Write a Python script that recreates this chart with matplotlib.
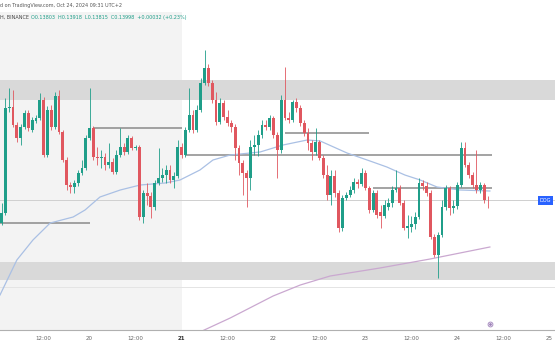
import numpy as np
import matplotlib.pyplot as plt

# DOGE 1h candles, prices in 1e-4 units
opens = [1388.5, 1393.5, 1446, 1446.5, 1437.5, 1431, 1436.5, 1443.5, 1435, 1439.5,
         1441, 1450, 1422.5, 1445, 1436.5, 1452, 1434, 1420, 1407.5, 1406.5,
         1408.5, 1413.5, 1416, 1431, 1436, 1421.5, 1421, 1421.5, 1417.5, 1419,
         1414, 1422.5, 1426.5, 1424, 1431, 1426, 1426.5, 1391.5, 1403.5, 1402,
         1396.5, 1408.5, 1411, 1412.5, 1415, 1410, 1412, 1426.5, 1422.5, 1435,
         1442.5, 1435, 1445, 1458.5, 1466, 1458.5, 1450, 1439, 1448.5, 1441.5,
         1438.5, 1436.5, 1426, 1418.5, 1413.5, 1411, 1426.5, 1427.5, 1432.5, 1437.5,
         1436.5, 1441, 1432.5, 1425, 1450, 1441, 1440, 1449, 1446, 1438.5,
         1433.5, 1428.5, 1424, 1429, 1421, 1412.5, 1402.5, 1412, 1403.5, 1386,
         1401, 1402.5, 1405, 1409, 1408, 1413.5, 1406, 1395, 1403.5, 1394,
         1392, 1396.5, 1398.5, 1405, 1406, 1398.5, 1386, 1386.5, 1388, 1391.5,
         1408.5, 1407, 1403.5, 1381.5, 1372.5, 1382.5, 1396.5, 1406, 1396, 1397,
         1407.5, 1426, 1417.5, 1412.5, 1407.5, 1405, 1407.5, 1400]
highs = [1398.5, 1451, 1456, 1455, 1439, 1438, 1445, 1445, 1441.5, 1442.5,
         1453.5, 1451.5, 1447, 1447.5, 1454, 1455, 1435, 1421.5, 1409, 1410,
         1415, 1420, 1432.5, 1456, 1437, 1426.5, 1425, 1423.5, 1428.5, 1421,
         1425, 1436, 1428.5, 1432.5, 1432, 1427.5, 1427.5, 1405, 1408.5, 1404,
         1410, 1426, 1416, 1417.5, 1417.5, 1414, 1430, 1428.5, 1436.5, 1456,
         1445, 1447.5, 1461, 1475, 1468, 1460, 1454, 1451, 1450, 1445,
         1440, 1438, 1427.5, 1420, 1415, 1430, 1432.5, 1435, 1440, 1440,
         1442.5, 1442, 1434, 1452.5, 1466.5, 1444, 1450, 1451, 1447.5, 1440,
         1436, 1430, 1436, 1430, 1422.5, 1417.5, 1415, 1415, 1405, 1402.5,
         1404, 1407, 1411, 1410.5, 1416, 1415, 1407, 1405, 1405, 1397.5,
         1400, 1401, 1407, 1415, 1407.5, 1400, 1392.5, 1392, 1394, 1411,
         1410, 1409, 1405, 1383, 1384, 1400, 1407.5, 1407, 1400, 1409,
         1429, 1429, 1419, 1414, 1425, 1409, 1408.5, 1402]
lows = [1387.5, 1392.5, 1444, 1436.5, 1429, 1427.5, 1435.5, 1434.5, 1434, 1438.5,
        1440, 1421.5, 1421.5, 1435, 1435.5, 1433, 1419, 1405, 1403.5, 1403.5,
        1407, 1412.5, 1415, 1430, 1420, 1417.5, 1416, 1415, 1416, 1413,
        1413, 1421.5, 1422.5, 1423, 1425, 1425, 1390, 1388.5, 1397.5, 1391,
        1395, 1407.5, 1409, 1408.5, 1408.5, 1406, 1411, 1421, 1421.5, 1434,
        1433.5, 1434, 1444, 1457.5, 1457, 1448.5, 1437.5, 1438, 1440, 1437,
        1434, 1420, 1412.5, 1402.5, 1396.5, 1405, 1422.5, 1422, 1431, 1435,
        1435, 1431, 1411, 1423.5, 1440, 1438.5, 1439, 1444, 1437, 1432,
        1425, 1420, 1422.5, 1420, 1411, 1400, 1397.5, 1401.5, 1384, 1384.5,
        1400, 1401.5, 1403.5, 1406, 1407, 1405, 1393.5, 1394, 1391, 1386,
        1391, 1395, 1396.5, 1404, 1397.5, 1385, 1381, 1384, 1385.5, 1390.5,
        1405, 1402, 1380.5, 1371.5, 1361, 1381.5, 1395, 1392.5, 1393.5, 1395.5,
        1406.5, 1416.5, 1411, 1406, 1403.5, 1403.5, 1398.5, 1396]
closes = [1393.5, 1446, 1446.5, 1437.5, 1431, 1436.5, 1443.5, 1436, 1440, 1441,
          1450, 1422.5, 1445, 1436.5, 1452, 1434, 1420, 1407.5, 1406.5, 1408.5,
          1413.5, 1416, 1431, 1436, 1421.5, 1421, 1421.5, 1417.5, 1419, 1414,
          1422.5, 1426.5, 1424, 1431, 1426, 1426.5, 1391.5, 1403.5, 1402, 1396.5,
          1408.5, 1411, 1412.5, 1415, 1410, 1412, 1426.5, 1422.5, 1435, 1442.5,
          1435, 1445, 1458.5, 1466, 1458.5, 1450, 1439, 1448.5, 1441.5, 1438.5,
          1436.5, 1426, 1418.5, 1413.5, 1411, 1426.5, 1427.5, 1432.5, 1437.5, 1436.5,
          1441, 1432.5, 1425, 1450, 1441, 1440, 1449, 1446, 1438.5, 1433.5,
          1428.5, 1424, 1429, 1421, 1412.5, 1402.5, 1412, 1403.5, 1386, 1401,
          1402.5, 1405, 1409, 1408, 1413.5, 1406, 1395, 1403.5, 1392.5, 1392,
          1397.5, 1398.5, 1405, 1406, 1398.5, 1386, 1387, 1388, 1391.5, 1408.5,
          1407, 1403.5, 1381.5, 1372.5, 1382.5, 1396.5, 1406, 1396, 1397, 1407.5,
          1426, 1417.5, 1412.5, 1407.5, 1405, 1407.5, 1400, 1399.8]
first_hour = 1  # Oct 19 01:00, hours counted from Oct 19 00:00

# moving averages (hour, price) read at a few points
ma_fast_hours = [0.6, 5.0, 9.2, 13.7, 19.7, 22.8, 26.7, 32.0, 37.2, 43.7, 47.6, 52.8, 56.2,
                 60.7, 68.5, 74.5, 80.8, 84.2, 91.2, 97.2, 101.6, 106.3, 110.3, 114.7, 120.7, 128.5]
ma_fast = [1352.5, 1370, 1380, 1388.5, 1391.5, 1395, 1401.5, 1405, 1407.5, 1408.5, 1410, 1415, 1420,
           1422.5, 1424, 1427.5, 1430, 1429.5, 1423.5, 1419.5, 1416.5, 1412.5, 1410, 1406.5, 1405, 1404.5]
ma_slow_hours = [52.8, 60.7, 71.9, 79.0, 86.8, 99.8, 112.9, 120.7, 128.5]
ma_slow = [1334, 1341, 1352, 1357.5, 1362, 1366, 1370.5, 1373.5, 1376.5]

# supply / demand zones (low, high)
zone_low = [1450, 1360]
zone_high = [1460, 1369]

# drawn horizontal levels
level_price = [1388.5, 1436, 1422.5, 1433.5, 1406]
level_start = [0.6, 25, 49, 75, 98]
level_end = [24, 48, 129, 97, 129]
faint_level = 1356.5

tick_hours = [12, 24, 36, 48, 60, 72, 84, 96, 108, 120, 132, 144]
tick_labels = ['12:00', '20', '12:00', '21', '12:00', '22', '12:00', '23', '12:00', '24', '12:00', '25']

o = np.array(opens) / 1e4
h = np.array(highs) / 1e4
l = np.array(lows) / 1e4
c = np.array(closes) / 1e4
t = first_hour + np.arange(len(o))

up_col = '#1f9e89'
dn_col = '#e0575f'

fig = plt.figure(figsize=(5.55, 3.6), dpi=100)
ax = fig.add_axes([0, 30 / 360, 1, 318 / 360])
ax.set_xlim(0.6, 145.5)
ax.set_ylim(0.1335, 0.1494)

# weekend background
ax.axvspan(0.6, 48, color='#f3f3f3', zorder=0, lw=0)

for lo, hi in zip(zone_low, zone_high):
    ax.axhspan(lo / 1e4, hi / 1e4, color='#d9d9d9', zorder=1, lw=0)

ax.axhline(c[-1], color='#cfcfcf', lw=0.7, zorder=1)
ax.axhline(faint_level / 1e4, color='#e4e4e4', lw=0.7, zorder=1)

for p, s, e in zip(level_price, level_start, level_end):
    ax.hlines(p / 1e4, s, e, color='#8a8a8a', lw=1.1, zorder=2)

ax.plot(ma_fast_hours, np.array(ma_fast) / 1e4, color='#aac0e4', lw=0.9, zorder=2)
ax.plot(ma_slow_hours, np.array(ma_slow) / 1e4, color='#caa8d0', lw=0.9, zorder=2)

cols = np.where(c >= o, up_col, dn_col)
ax.vlines(t, l, h, colors=cols, lw=0.6, zorder=3)
body = np.maximum(np.abs(c - o), 0.00002)
ax.bar(t, body, bottom=np.minimum(o, c), width=0.75, color=cols, lw=0, zorder=4)

# last price label
ax.text(141.5, c[-1], 'DOG', fontsize=3.6, color='white', va='center', ha='left',
        bbox=dict(boxstyle='square,pad=0.35', fc='#2962ff', ec='none'), zorder=5)

# small marker on the time axis
ax.plot([128.5], [0.1338], marker='o', ms=3.5, mfc='none', mec='#9c7fb8', mew=0.6, zorder=5)
ax.plot([128.5], [0.1338], marker='o', ms=1, color='#9c7fb8', zorder=5)

for side in ['top', 'left', 'right']:
    ax.spines[side].set_visible(False)
ax.spines['bottom'].set_color('#b0b0b0')
ax.spines['bottom'].set_linewidth(0.8)
ax.set_yticks([])
ax.set_xticks(tick_hours)
ax.set_xticklabels(tick_labels, fontsize=4, color='#666666')
ax.tick_params(axis='x', length=0, pad=4)
for lab in ax.get_xticklabels():
    if lab.get_text() == '21':
        lab.set_fontweight('bold')
        lab.set_color('#333333')

fig.text(0.0, 1 - 5 / 360, 'd on TradingView.com, Oct 24, 2024 09:31 UTC+2',
         fontsize=3.5, color='#555555', va='center', ha='left')
fig.text(0.0, 1 - 17 / 360, 'H, BINANCE', fontsize=3.5, color='#444444', va='center', ha='left')
fig.text(31 / 555, 1 - 17 / 360, 'O0.13803  H0.13918  L0.13815  C0.13998  +0.00032 (+0.23%)',
         fontsize=3.5, color='#1f9e89', va='center', ha='left')

fig.savefig('out.png', dpi=100)
